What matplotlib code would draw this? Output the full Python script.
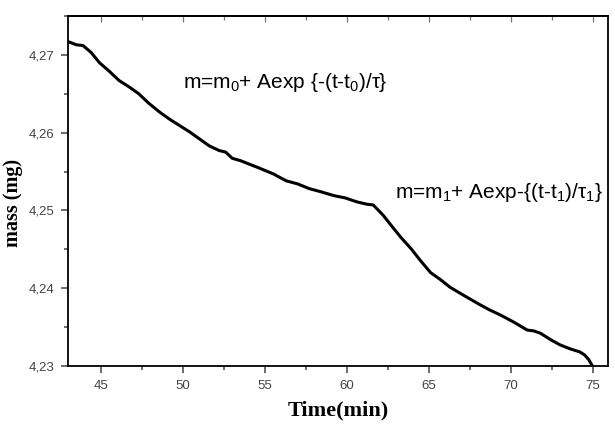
import matplotlib
matplotlib.use('Agg')
import matplotlib.pyplot as plt
from matplotlib.ticker import MultipleLocator, FuncFormatter

# values
time_min = [43.0, 43.5, 43.9, 44.4, 44.9, 45.5, 46.1, 46.7, 47.3, 47.9, 48.6,
            49.2, 49.8, 50.4, 51.0, 51.6, 52.2, 52.6, 53.0, 53.5, 54.1, 54.7,
            55.5, 56.3, 57.0, 57.7, 58.4, 59.2, 59.9, 60.6, 61.2, 61.6, 62.2,
            62.8, 63.3, 63.9, 64.5, 65.1, 65.7, 66.3, 67.1, 68.0, 68.7, 69.4,
            70.2, 71.0, 71.4, 71.8, 72.4, 73.0, 73.6, 74.2, 74.5, 74.75, 74.97]
mass_mg = [4.2717, 4.2713, 4.2712, 4.2703, 4.2690, 4.2679, 4.2667, 4.2659,
           4.2650, 4.2638, 4.2626, 4.2617, 4.2609, 4.2601, 4.2592, 4.2583,
           4.2577, 4.2575, 4.2567, 4.2564, 4.2559, 4.2554, 4.2547, 4.2538,
           4.2534, 4.2528, 4.2524, 4.2519, 4.2516, 4.2511, 4.2508, 4.2507,
           4.2494, 4.2478, 4.2465, 4.2451, 4.2435, 4.2420, 4.2411, 4.2401,
           4.2391, 4.2380, 4.2372, 4.2365, 4.2356, 4.2346, 4.2345, 4.2342,
           4.2334, 4.2327, 4.2322, 4.2318, 4.2314, 4.2308, 4.2300]

eq_top = 'm=m$_0$+ Aexp {-(t-t$_0$)/τ}'
eq_right = 'm=m$_1$+ Aexp-{(t-t$_1$)/τ$_1$}'

plt.rcParams['mathtext.fontset'] = 'custom'
plt.rcParams['mathtext.rm'] = 'Liberation Sans'
plt.rcParams['mathtext.default'] = 'regular'

fig = plt.figure(figsize=(6.15, 4.33), dpi=100)
ax = fig.add_axes([0.111, 0.155, 0.877, 0.808])

ax.plot(time_min, mass_mg, color='black', lw=2.2, solid_joinstyle='round')

ax.set_xlim(43.0, 75.9)
ax.set_ylim(4.23, 4.275)
ax.xaxis.set_major_locator(MultipleLocator(5))
ax.xaxis.set_minor_locator(MultipleLocator(2.5))
ax.yaxis.set_major_locator(MultipleLocator(0.01))
ax.yaxis.set_minor_locator(MultipleLocator(0.005))
ax.yaxis.set_major_formatter(FuncFormatter(lambda v, p: f'{v:.2f}'.replace('.', ',')))

for s in ax.spines.values():
    s.set_linewidth(1.3)
ax.tick_params(which='both', direction='out', top=False, right=False,
               width=1.1, colors='#444444', labelsize=9.5,
               labelfontfamily='Liberation Sans')
ax.tick_params(which='major', length=5, pad=5)
ax.tick_params(which='minor', length=3)

# faint inward ticks along the top edge
top = ax.secondary_xaxis('top')
top.xaxis.set_major_locator(MultipleLocator(5))
top.xaxis.set_minor_locator(MultipleLocator(2.5))
top.tick_params(which='both', direction='in', labeltop=False, colors='#777777',
                width=0.9)
top.tick_params(which='major', length=4)
top.tick_params(which='minor', length=3)
top.spines['top'].set_linewidth(1.3)
top.spines['top'].set_color('black')

ax.set_xlabel('Time(min)', family='Liberation Serif', fontweight='bold',
              fontsize=16, va='top')
ax.xaxis.set_label_coords(0.5, -0.10)
ax.set_ylabel('mass (mg)', family='Liberation Serif', fontweight='bold',
              fontsize=14.5)
ax.yaxis.set_label_coords(-0.0835, 0.467)

ax.text(0.213, 0.795, eq_top, transform=ax.transAxes, family='Liberation Sans',
        fontsize=15, ha='left', va='baseline')
ax.text(0.991, 0.481, eq_right, transform=ax.transAxes, family='Liberation Sans',
        fontsize=15, ha='right', va='baseline')

fig.savefig('out.png', dpi=100)
